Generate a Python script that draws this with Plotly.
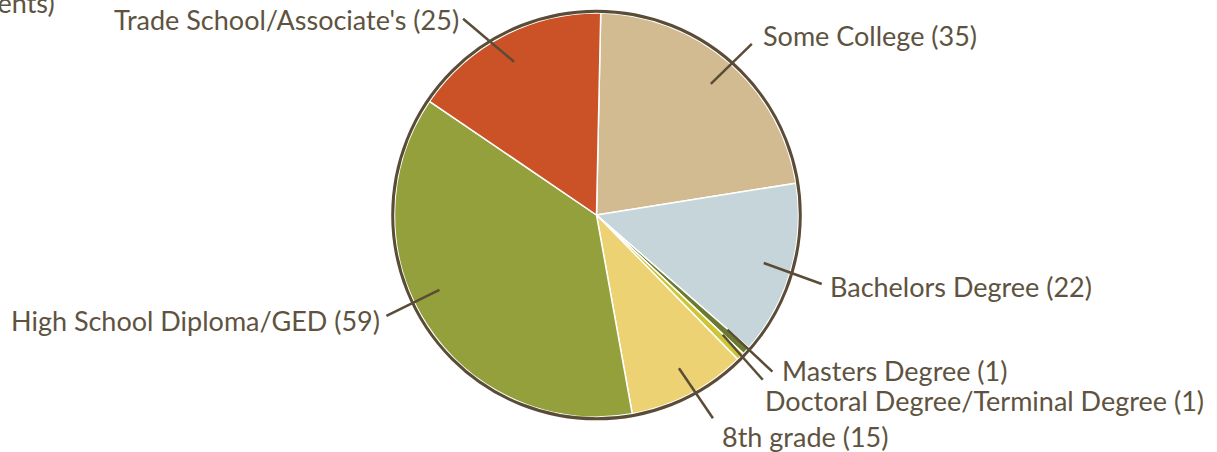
import math
import plotly.graph_objects as go

# ---- data ----
categories = ["Some College", "Bachelors Degree", "Masters Degree",
              "Doctoral Degree/Terminal Degree", "8th grade",
              "High School Diploma/GED", "Trade School/Associate's"]
counts = [35, 22, 1, 1, 15, 59, 25]
colors = ["#D2BA91", "#C5D5DA", "#6B7A2F", "#CBC632", "#EDD273",
          "#93A03B", "#CB5127"]

# ---- layout / style ----
W, H = 1217, 452
CX, CY, R = 596.5, 215, 202
ROT = 1.2
INNER_R = 174
TEXT_COLOR = "#5E5340"
DARK = "#5A4C36"
FONT = "Lato"
FSIZE = 27

# per-label placement: (angle nudge deg, line end dx, dy, text dx, dy, anchor)
label_style = {
    "Some College": (0, 41, -40, 9, -8, "left"),
    "Bachelors Degree": (0, 58, 21, 6, 3, "left"),
    "Masters Degree": (-1, 45, 42, 8, -1, "left"),
    "Doctoral Degree/Terminal Degree": (-1, 40, 45, 0, 21, "left"),
    "8th grade": (-1, 34, 50, 7, 18, "left"),
    "High School Diploma/GED": (7.5, -53, 26, -4, 5, "right"),
    "Trade School/Associate's": (-1, -51, -43, -2, 1, "right"),
}

fig = go.Figure()
fig.add_trace(go.Pie(
    labels=categories, values=counts, sort=False, direction="clockwise",
    rotation=ROT, textinfo="none", hoverinfo="label+value",
    marker=dict(colors=colors, line=dict(color="white", width=1.5)),
    domain=dict(x=[(CX - R) / W, (CX + R) / W],
                y=[(H - CY - R) / H, (H - CY + R) / H]),
    showlegend=False,
))

shapes = [dict(type="circle", xref="x", yref="y", x0=CX - R - 1.8, x1=CX + R + 1.8,
               y0=CY - R - 1.8, y1=CY + R + 1.8, line=dict(color=DARK, width=3),
               layer="above")]
annotations = []
total = sum(counts)
cum = 0.0
for cat, v in zip(categories, counts):
    mid = (cum + v / 2) / total * 360 + ROT
    cum += v
    nudge, ldx, ldy, tdx, tdy, anchor = label_style[cat]
    a = math.radians(mid + nudge)
    x0 = CX + INNER_R * math.sin(a)
    y0 = CY - INNER_R * math.cos(a)
    x1, y1 = x0 + ldx, y0 + ldy
    shapes.append(dict(type="line", xref="x", yref="y", x0=x0, y0=y0, x1=x1, y1=y1,
                       line=dict(color=DARK, width=2.5), layer="above"))
    annotations.append(dict(x=x1 + tdx, y=y1 + tdy, xref="x", yref="y",
                            text=f"{cat} ({v})", showarrow=False,
                            xanchor=anchor, yanchor="middle",
                            font=dict(family=FONT, size=FSIZE, color=TEXT_COLOR)))

annotations.append(dict(x=57, y=2, xref="x", yref="y",
                        text="Highest Level of Education (Number of Respondents)",
                        showarrow=False, xanchor="right", yanchor="middle",
                        font=dict(family=FONT, size=FSIZE, color=TEXT_COLOR)))

fig.update_layout(
    width=W, height=H, margin=dict(l=0, r=0, t=0, b=0),
    paper_bgcolor="white", plot_bgcolor="rgba(0,0,0,0)",
    xaxis=dict(range=[0, W], visible=False, fixedrange=True),
    yaxis=dict(range=[H, 0], visible=False, fixedrange=True),
    shapes=shapes, annotations=annotations,
)
fig.write_html("out.html", config={"displayModeBar": False},
               post_script="document.body.style.margin='0';")
